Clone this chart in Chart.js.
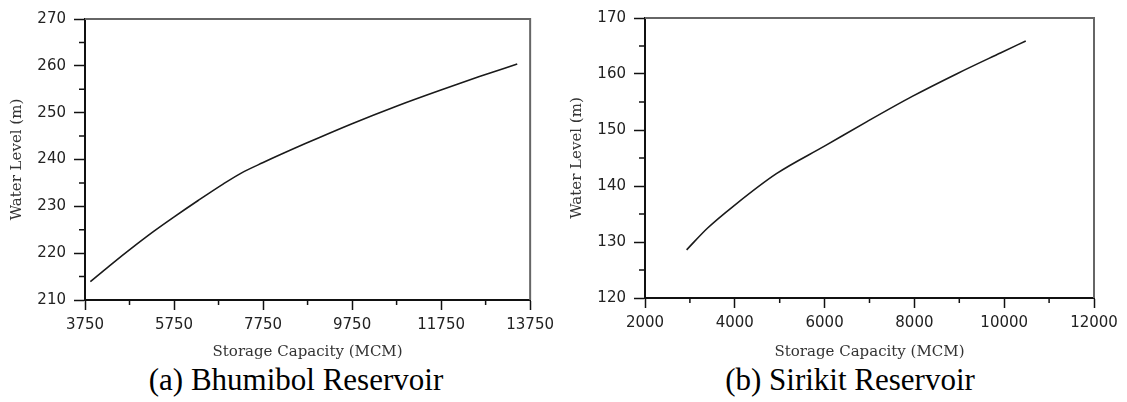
<!DOCTYPE html>
<html>
<head>
<meta charset="utf-8">
<script src="https://cdn.jsdelivr.net/npm/chart.js@4.4.1/dist/chart.umd.min.js"></script>
<style>
  body { margin: 0; background: #fff; width: 1127px; height: 402px; position: relative; overflow: hidden; }
  .box { position: absolute; top: 0; height: 362px; }
  .caption { position: absolute; top: 362px; width: 300px; height: 36px; line-height: 36px;
    text-align: center; font-family: "Liberation Serif", serif; font-size: 31px; color: #000; }
</style>
</head>
<body>
<div class="box" style="left:0;width:560px"><canvas id="chart-bhumibol"></canvas></div>
<div class="box" style="left:560px;width:567px"><canvas id="chart-sirikit"></canvas></div>
<div class="caption" style="left:146px">(a) Bhumibol Reservoir</div>
<div class="caption" style="left:700px">(b) Sirikit Reservoir</div>
<script>
// datos
const bhumibolCapacity = [3870, 4300, 4870, 5300, 5745, 6300, 6860, 7260, 7740, 8700, 9735, 10775, 11730, 12610, 13460];
const bhumibolLevel = [213.9, 217.3, 221.6, 224.7, 227.7, 231.3, 234.8, 237.1, 239.3, 243.4, 247.6, 251.5, 254.8, 257.7, 260.4];
const bhumibolXTicks = [3750, 5750, 7750, 9750, 11750, 13750];
const bhumibolXMinor = [4750, 6750, 8750, 10750, 12750];
const bhumibolYTicks = [210, 220, 230, 240, 250, 260, 270];
const bhumibolYMinor = [215, 225, 235, 245, 255, 265];

const sirikitCapacity = [2927, 3395, 4000, 4927, 6016, 6944, 7952, 8960, 9927, 10480];
const sirikitLevel = [128.6, 132.5, 136.6, 142.2, 147.2, 151.5, 156.0, 160.1, 163.8, 165.9];
const sirikitXTicks = [2000, 4000, 6000, 8000, 10000, 12000];
const sirikitXMinor = [3000, 5000, 7000, 9000, 11000];
const sirikitYTicks = [120, 130, 140, 150, 160, 170];
const sirikitYMinor = [125, 135, 145, 155, 165];

const tickFont = { family: "DejaVu Sans", size: 15 };
const titleFont = { family: "DejaVu Serif", size: 15 };

// marco gris arriba/derecha y ticks menores
const frameAndMinor = {
  id: "frameAndMinor",
  afterDraw(chart, args, opts) {
    const ctx = chart.ctx;
    const a = chart.chartArea;
    const x = chart.scales.x, y = chart.scales.y;
    ctx.save();
    ctx.strokeStyle = "#666";
    ctx.lineWidth = 2;
    ctx.beginPath();
    ctx.moveTo(a.left, a.top);
    ctx.lineTo(a.right, a.top);
    ctx.lineTo(a.right, a.bottom);
    ctx.stroke();
    ctx.strokeStyle = "#111";
    ctx.lineWidth = 1.5;
    ctx.beginPath();
    opts.x.forEach(function (v) {
      const px = x.getPixelForValue(v);
      ctx.moveTo(px, a.bottom);
      ctx.lineTo(px, a.bottom + 5);
    });
    opts.y.forEach(function (v) {
      const py = y.getPixelForValue(v);
      ctx.moveTo(a.left, py);
      ctx.lineTo(a.left - 6, py);
    });
    ctx.stroke();
    ctx.restore();
  },
};

function crearGrafico(id, capacity, level, xTicks, yTicks, xMinor, yMinor, padRight, padTop, yW, xH) {
  const puntos = capacity.map(function (c, i) { return { x: c, y: level[i] }; });
  return new Chart(document.getElementById(id), {
    type: "line",
    data: {
      datasets: [{
        data: puntos,
        borderColor: "#1a1a1a",
        borderWidth: 1.6,
        pointRadius: 0,
        cubicInterpolationMode: "monotone",
        fill: false,
      }],
    },
    options: {
      responsive: true,
      maintainAspectRatio: false,
      animation: false,
      layout: { padding: { left: 0, right: padRight, top: padTop, bottom: 0 } },
      plugins: {
        legend: { display: false },
        tooltip: { enabled: false },
        frameAndMinor: { x: xMinor, y: yMinor },
      },
      scales: {
        x: {
          type: "linear",
          min: xTicks[0],
          max: xTicks[xTicks.length - 1],
          afterBuildTicks: function (s) { s.ticks = xTicks.map(function (v) { return { value: v }; }); },
          afterFit: function (s) { s.height = xH; },
          ticks: {
            autoSkip: false, maxRotation: 0, padding: 6, color: "#222", font: tickFont,
            callback: function (v) { return String(v); },
          },
          grid: { drawOnChartArea: false, drawTicks: true, tickLength: 10, tickColor: "#111", tickWidth: 1.5 },
          border: { color: "#111", width: 2 },
          title: { display: true, text: "Storage Capacity (MCM)", color: "#333", font: titleFont, padding: { top: 0, bottom: 1 } },
        },
        y: {
          type: "linear",
          min: yTicks[0],
          max: yTicks[yTicks.length - 1],
          afterBuildTicks: function (s) { s.ticks = yTicks.map(function (v) { return { value: v }; }); },
          afterFit: function (s) { s.width = yW; },
          ticks: {
            padding: 8, color: "#222", font: tickFont,
            callback: function (v) { return String(v); },
          },
          grid: { drawOnChartArea: false, drawTicks: true, tickLength: 11, tickColor: "#111", tickWidth: 1.5 },
          border: { color: "#111", width: 2 },
          title: { display: true, text: "Water Level (m)", color: "#333", font: titleFont, padding: { top: 8, bottom: 0 } },
        },
      },
    },
    plugins: [frameAndMinor],
  });
}

crearGrafico("chart-bhumibol", bhumibolCapacity, bhumibolLevel, bhumibolXTicks, bhumibolYTicks,
  bhumibolXMinor, bhumibolYMinor, 27, 19, 85, 62);
crearGrafico("chart-sirikit", sirikitCapacity, sirikitLevel, sirikitXTicks, sirikitYTicks,
  sirikitXMinor, sirikitYMinor, 33, 18, 85, 64);
</script>
</body>
</html>
